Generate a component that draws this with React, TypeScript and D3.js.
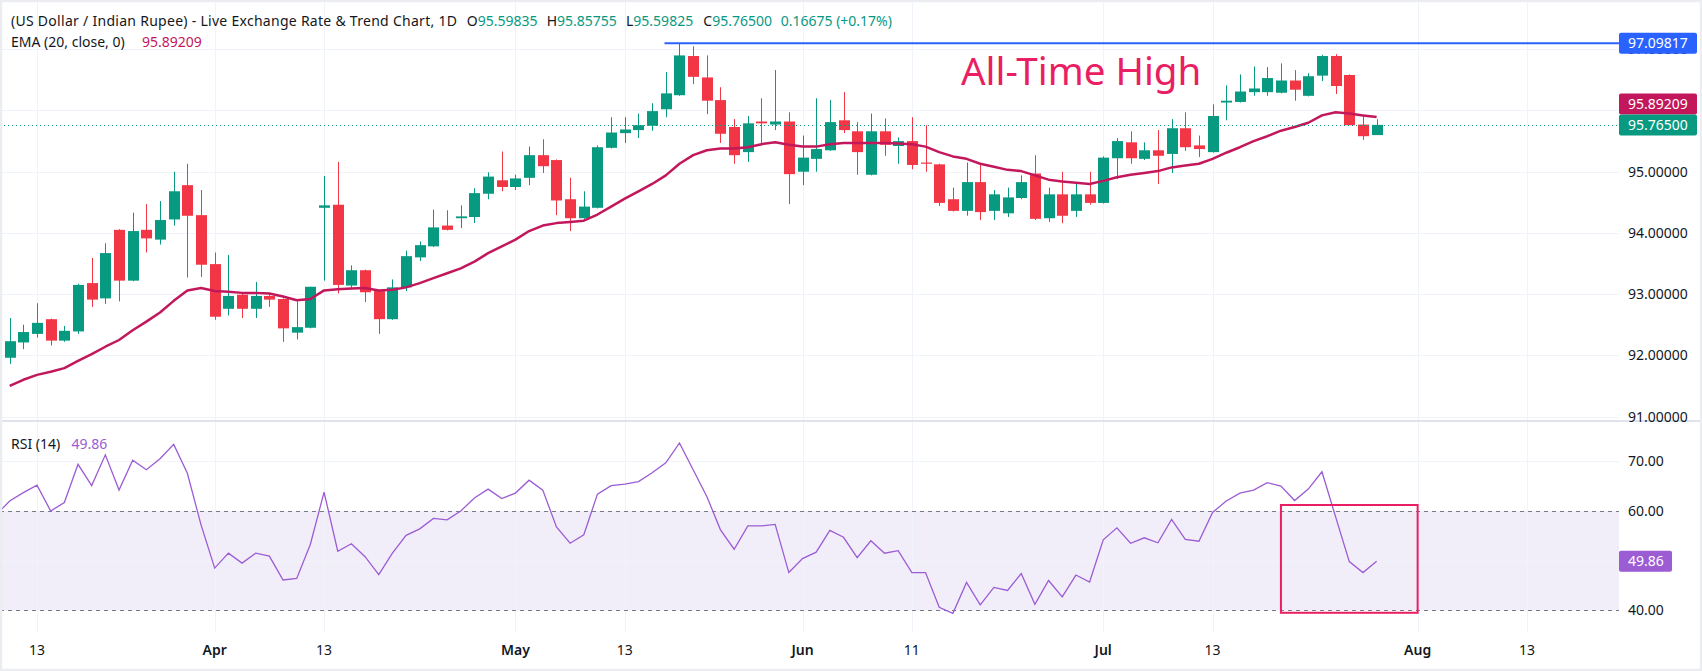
import React, { useEffect, useRef } from 'react';
import * as d3 from 'd3';

// trading days shown on the chart (USD/INR daily)
const dates = [
  '2026-03-11', '2026-03-12', '2026-03-13', '2026-03-16', '2026-03-17', '2026-03-18', '2026-03-19', '2026-03-20',
  '2026-03-23', '2026-03-24', '2026-03-25', '2026-03-26', '2026-03-27', '2026-03-30', '2026-03-31',
  '2026-04-01', '2026-04-02', '2026-04-03', '2026-04-06', '2026-04-07', '2026-04-08', '2026-04-09', '2026-04-10',
  '2026-04-13', '2026-04-14', '2026-04-15', '2026-04-16', '2026-04-17', '2026-04-20', '2026-04-21', '2026-04-22',
  '2026-04-23', '2026-04-24', '2026-04-27', '2026-04-28', '2026-04-29', '2026-04-30',
  '2026-05-01', '2026-05-04', '2026-05-05', '2026-05-06', '2026-05-07', '2026-05-08', '2026-05-11', '2026-05-12',
  '2026-05-13', '2026-05-14', '2026-05-15', '2026-05-18', '2026-05-19', '2026-05-20', '2026-05-21', '2026-05-22',
  '2026-05-25', '2026-05-26', '2026-05-27', '2026-05-28', '2026-05-29',
  '2026-06-01', '2026-06-02', '2026-06-03', '2026-06-04', '2026-06-05', '2026-06-08', '2026-06-09', '2026-06-10',
  '2026-06-11', '2026-06-12', '2026-06-15', '2026-06-16', '2026-06-17', '2026-06-18', '2026-06-19', '2026-06-22',
  '2026-06-23', '2026-06-24', '2026-06-25', '2026-06-26', '2026-06-29', '2026-06-30',
  '2026-07-01', '2026-07-02', '2026-07-03', '2026-07-06', '2026-07-07', '2026-07-08', '2026-07-09', '2026-07-10',
  '2026-07-13', '2026-07-14', '2026-07-15', '2026-07-16', '2026-07-17', '2026-07-20', '2026-07-21', '2026-07-22',
  '2026-07-23', '2026-07-24', '2026-07-27', '2026-07-28', '2026-07-29',
];

// empty slots to the right of the last bar
const futureDates = [
  '2026-07-30', '2026-07-31', '2026-08-03', '2026-08-04', '2026-08-05', '2026-08-06', '2026-08-07',
  '2026-08-10', '2026-08-11', '2026-08-12', '2026-08-13', '2026-08-14', '2026-08-17', '2026-08-18', '2026-08-19',
];

const opens = [
  91.96, 92.21, 92.35, 92.59, 92.24, 92.39, 93.18, 92.93, 94.05, 93.22, 94.05, 93.89, 94.22, 94.78, 94.29,
  93.49, 92.76, 92.99, 92.76, 92.97, 92.92, 92.37, 92.45, 94.41, 94.46, 93.14, 93.39, 93.05, 92.59, 93.11,
  93.6, 93.78, 94.12, 94.24, 94.26, 94.64, 94.86, 94.75, 94.9, 95.27, 95.19, 94.55, 94.24, 94.41, 95.39,
  95.63, 95.68, 95.75, 96.02, 96.25, 96.89, 96.54, 96.17, 95.73, 95.32, 95.82, 95.77, 95.82, 95.0, 95.21,
  95.35, 95.84, 95.66, 94.95, 95.66, 95.42, 95.5, 95.15, 95.12, 94.55, 94.36, 94.83, 94.36, 94.32, 94.57,
  94.97, 94.24, 94.63, 94.36, 94.63, 94.49, 95.22, 95.48, 95.21, 95.35, 95.29, 95.71, 95.43, 95.32, 96.13,
  96.14, 96.3, 96.3, 96.29, 96.49, 96.24, 96.57, 96.89, 96.58, 95.77, 95.59835,
];

const highs = [
  92.61, 92.5, 92.85, 92.6, 92.48, 93.17, 93.59, 93.83, 94.06, 94.33, 94.47, 94.52, 95.0, 95.13, 94.7,
  93.68, 93.64, 93.0, 93.2, 93.02, 92.93, 92.88, 93.12, 94.93, 95.16, 93.47, 93.4, 93.06, 93.24, 93.71,
  93.86, 94.38, 94.37, 94.45, 94.73, 94.99, 95.33, 94.95, 95.41, 95.53, 95.2, 94.9, 94.68, 95.43, 95.89,
  95.89, 95.95, 96.12, 96.63, 97.09817, 97.05, 96.9, 96.38, 95.86, 95.91, 96.2, 96.66, 95.97, 95.59, 96.2,
  96.17, 96.3, 95.81, 95.95, 95.87, 95.56, 95.89, 95.76, 95.13, 94.74, 95.15, 95.12, 94.7, 94.74, 94.94,
  95.27, 94.74, 95.0, 94.83, 95.0, 95.25, 95.55, 95.66, 95.48, 95.68, 95.86, 95.97, 95.59, 96.1, 96.41,
  96.59, 96.72, 96.71, 96.77, 96.66, 96.61, 96.91, 96.92, 96.59, 95.9, 95.85755,
];

const lows = [
  91.86, 92.1, 92.29, 92.16, 92.22, 92.35, 92.79, 92.84, 92.88, 93.21, 93.68, 93.81, 94.12, 93.27, 93.28,
  92.58, 92.65, 92.61, 92.61, 92.79, 92.22, 92.26, 92.44, 93.22, 93.01, 93.08, 92.87, 92.35, 92.58, 93.05,
  93.54, 93.77, 94.04, 94.08, 94.16, 94.55, 94.68, 94.7, 94.78, 94.98, 94.29, 94.03, 94.23, 94.4, 95.38,
  95.47, 95.55, 95.67, 95.89, 96.24, 96.43, 95.94, 95.47, 95.13, 95.16, 95.46, 95.68, 94.47, 94.78, 95.0,
  95.34, 95.63, 94.95, 94.94, 95.26, 95.13, 95.04, 95.0, 94.44, 94.35, 94.28, 94.21, 94.21, 94.26, 94.55,
  94.21, 94.18, 94.16, 94.26, 94.46, 94.48, 94.88, 95.13, 95.19, 94.8, 94.98, 95.34, 95.24, 95.31, 95.84,
  96.13, 96.24, 96.24, 96.28, 96.16, 96.23, 96.48, 96.27, 95.76, 95.52, 95.59825,
];

const closes = [
  92.23, 92.38, 92.53, 92.24, 92.4, 93.15, 92.91, 93.67, 93.22, 94.03, 93.91, 94.21, 94.68, 94.28, 93.48,
  92.63, 92.97, 92.76, 92.97, 92.91, 92.44, 92.46, 93.12, 94.45, 93.15, 93.39, 93.03, 92.59, 93.11, 93.62,
  93.8, 94.09, 94.05, 94.27, 94.65, 94.92, 94.75, 94.89, 95.27, 95.09, 94.53, 94.24, 94.43, 95.4, 95.64,
  95.69, 95.76, 95.99, 96.28, 96.9, 96.55, 96.16, 95.62, 95.27, 95.79, 95.79, 95.82, 94.96, 95.23, 95.37,
  95.81, 95.68, 95.32, 95.66, 95.44, 95.5, 95.11, 95.13, 94.49, 94.36, 94.83, 94.34, 94.63, 94.58, 94.83,
  94.23, 94.63, 94.28, 94.63, 94.49, 95.23, 95.5, 95.22, 95.35, 95.26, 95.71, 95.4, 95.37, 95.91, 96.16,
  96.31, 96.36, 96.53, 96.49, 96.34, 96.56, 96.89, 96.4, 95.76, 95.58, 95.765,
];

const ema20 = [
  91.5, 91.6, 91.68, 91.73, 91.79, 91.91, 92.02, 92.14, 92.25, 92.41, 92.55, 92.7, 92.89, 93.06, 93.1,
  93.05, 93.04, 93.02, 93.02, 93.01, 92.96, 92.9, 92.92, 93.06, 93.08, 93.09, 93.1, 93.06, 93.07, 93.11,
  93.18, 93.26, 93.34, 93.42, 93.53, 93.67, 93.78, 93.89, 94.03, 94.12, 94.16, 94.18, 94.2, 94.3, 94.43,
  94.56, 94.68, 94.8, 94.94, 95.13, 95.27, 95.35, 95.38, 95.38, 95.4, 95.45, 95.48, 95.44, 95.41, 95.41,
  95.45, 95.47, 95.47, 95.47, 95.47, 95.46, 95.45, 95.41, 95.32, 95.25, 95.21, 95.13, 95.08, 95.03, 95.01,
  94.94, 94.87, 94.84, 94.82, 94.8, 94.85, 94.91, 94.95, 94.98, 95.01, 95.07, 95.1, 95.13, 95.21, 95.31,
  95.4, 95.5, 95.58, 95.67, 95.73, 95.8, 95.92, 95.97, 95.95, 95.92, 95.89209,
];

// RSI starts one bar earlier (the bar cut off at the left edge)
const rsiDates = ['2026-03-10', ...dates];
const rsi14 = [
  59.2, 62.0, 63.7, 65.2, 60.0, 61.7, 69.4, 65.1, 71.3, 64.2, 70.2, 68.3, 70.5, 73.4, 67.6, 57.2, 48.5,
  51.5, 49.5, 51.5, 50.9, 46.1, 46.4, 53.3, 63.8, 51.9, 53.4, 50.8, 47.2, 51.5, 55.1, 56.4, 58.5, 58.2,
  60.0, 62.6, 64.4, 62.5, 63.6, 66.2, 64.2, 56.8, 53.5, 55.2, 63.4, 65.1, 65.4, 65.9, 67.7, 69.7, 73.7,
  68.3, 62.9, 56.2, 52.3, 57.0, 57.0, 57.3, 47.6, 50.4, 51.7, 56.1, 54.7, 50.6, 54.0, 51.5, 52.0, 47.6,
  47.6, 40.6, 39.4, 45.6, 41.1, 44.6, 44.0, 47.4, 41.2, 46.0, 42.7, 47.1, 45.7, 54.2, 56.6, 53.5, 54.6,
  53.6, 58.3, 54.3, 53.9, 59.7, 62.0, 63.6, 64.2, 65.7, 65.0, 62.1, 64.4, 67.9, 58.8, 49.8, 47.6, 49.86,
];

const priceTicks = [91, 92, 93, 94, 95, 96, 97];
const rsiTicks = [70, 60, 50, 40];
const rsiBand = [40, 60];
const axisDates = [
  '2026-03-13', '2026-04-01', '2026-04-13', '2026-05-01', '2026-05-13', '2026-06-01',
  '2026-06-11', '2026-07-01', '2026-07-13', '2026-08-03', '2026-08-13',
];
const axisLabels = ['13', 'Apr', '13', 'May', '13', 'Jun', '11', 'Jul', '13', 'Aug', '13'];

const allTimeHigh = 97.09817;
const athDate = '2026-05-19';
const boxStart = '2026-07-20';
const boxEnd = '2026-08-03';
const boxRsi = [39.5, 61.2];

const FONT = '"Noto Sans", sans-serif';
const UP = '#089981';
const DOWN = '#F23645';
const EMA_COLOR = '#C2185B';
const RSI_COLOR = '#9B5CD4';
const TEXT = '#131722';
const GRID = '#F0F3FA';

const App: React.FC = () => {
  const chartRef = useRef<SVGSVGElement | null>(null);

  useEffect(() => {
    const svg = d3.select(chartRef.current);
    svg.selectAll('*').remove();

    const width = 1702;
    const height = 671;
    const plotRight = 1619;
    const sepY = 421;
    const rsiBottom = 632;

    const slots = ['2026-03-10', ...dates, ...futureDates];
    const slot = (d: string) => slots.indexOf(d);

    const x = d3.scaleLinear()
      .domain([slot('2026-03-13'), slot('2026-08-13')])
      .range([37, 1527]);
    const step = x(1) - x(0);

    const y = d3.scaleLinear().domain([92, 97]).range([355.3, 49.3]);
    const yR = d3.scaleLinear().domain([40, 70]).range([610.3, 461.3]);

    svg.append('rect').attr('width', width).attr('height', height).attr('fill', '#fff');

    const defs = svg.append('defs');
    defs.append('clipPath').attr('id', 'pricePane')
      .append('rect').attr('x', 0).attr('y', 0).attr('width', plotRight).attr('height', sepY);
    defs.append('clipPath').attr('id', 'rsiPane')
      .append('rect').attr('x', 0).attr('y', sepY).attr('width', plotRight).attr('height', rsiBottom - sepY);

    // RSI band background
    svg.append('rect')
      .attr('x', 0).attr('width', plotRight)
      .attr('y', yR(rsiBand[1])).attr('height', yR(rsiBand[0]) - yR(rsiBand[1]))
      .attr('fill', '#F2EEF9');

    // grid
    const grid = svg.append('g');
    grid.selectAll('line.v').data(axisDates).join('line')
      .attr('x1', d => Math.round(x(slot(d))) + 0.5).attr('x2', d => Math.round(x(slot(d))) + 0.5)
      .attr('y1', 0).attr('y2', rsiBottom)
      .attr('stroke', GRID);
    grid.selectAll('line.p').data(priceTicks).join('line')
      .attr('x1', 0).attr('x2', plotRight)
      .attr('y1', d => Math.round(y(d)) + 0.5).attr('y2', d => Math.round(y(d)) + 0.5)
      .attr('stroke', GRID);
    grid.selectAll('line.r').data(rsiTicks).join('line')
      .attr('x1', 0).attr('x2', plotRight)
      .attr('y1', d => Math.round(yR(d)) + 0.5).attr('y2', d => Math.round(yR(d)) + 0.5)
      .attr('stroke', d => (rsiBand.includes(d) ? '#787B86' : GRID))
      .attr('stroke-dasharray', d => (rsiBand.includes(d) ? '4,4' : null));

    // pane separator
    svg.append('line')
      .attr('x1', 0).attr('x2', width).attr('y1', sepY).attr('y2', sepY)
      .attr('stroke', '#E0E3EB').attr('stroke-width', 2);

    // candles
    const candles = dates.map((d, i) => ({ d, o: opens[i], h: highs[i], l: lows[i], c: closes[i] }));
    const bodyW = Math.round(step * 0.8);
    const price = svg.append('g').attr('clip-path', 'url(#pricePane)');
    const cx = (d: string) => Math.round(x(slot(d)));

    price.selectAll('line.wick').data(candles).join('line')
      .attr('x1', k => cx(k.d) + 0.5).attr('x2', k => cx(k.d) + 0.5)
      .attr('y1', k => y(k.h)).attr('y2', k => y(k.l))
      .attr('stroke', k => (k.c >= k.o ? UP : DOWN));
    price.selectAll('rect.body').data(candles).join('rect')
      .attr('x', k => cx(k.d) - (bodyW - 1) / 2)
      .attr('width', bodyW)
      .attr('y', k => y(Math.max(k.o, k.c)))
      .attr('height', k => Math.max(1, Math.abs(y(k.o) - y(k.c))))
      .attr('fill', k => (k.c >= k.o ? UP : DOWN));

    // EMA 20
    const emaLine = d3.line<number>()
      .x((_, i) => x(slot(dates[i])))
      .y(v => y(v));
    price.append('path')
      .datum(ema20)
      .attr('d', emaLine)
      .attr('fill', 'none')
      .attr('stroke', EMA_COLOR)
      .attr('stroke-width', 2.5)
      .attr('stroke-linejoin', 'round');

    // last close dotted line
    const lastClose = closes[closes.length - 1];
    price.append('line')
      .attr('x1', 0).attr('x2', plotRight)
      .attr('y1', Math.round(y(lastClose)) + 0.5).attr('y2', Math.round(y(lastClose)) + 0.5)
      .attr('stroke', UP).attr('stroke-dasharray', '1,3');

    // all-time high line
    price.append('line')
      .attr('x1', x(slot(athDate)) - 15).attr('x2', plotRight)
      .attr('y1', y(allTimeHigh)).attr('y2', y(allTimeHigh))
      .attr('stroke', '#2962FF').attr('stroke-width', 2);

    price.append('text')
      .attr('x', 961).attr('y', 85)
      .attr('font-family', FONT).attr('font-size', 38.5)
      .attr('fill', '#E91E63')
      .text('All-Time High');

    // RSI
    const rsiLine = d3.line<number>()
      .x((_, i) => x(slot(rsiDates[i])))
      .y(v => yR(v));
    svg.append('g').attr('clip-path', 'url(#rsiPane)')
      .append('path')
      .datum(rsi14)
      .attr('d', rsiLine)
      .attr('fill', 'none')
      .attr('stroke', RSI_COLOR)
      .attr('stroke-width', 1.3);

    // highlight box on the RSI drop
    svg.append('rect')
      .attr('x', x(slot(boxStart))).attr('y', yR(boxRsi[1]))
      .attr('width', x(slot(boxEnd)) - x(slot(boxStart)))
      .attr('height', yR(boxRsi[0]) - yR(boxRsi[1]))
      .attr('fill', 'none').attr('stroke', '#E91E63').attr('stroke-width', 2);

    // x axis labels
    svg.append('g').selectAll('text').data(axisDates).join('text')
      .attr('x', d => x(slot(d)))
      .attr('y', 655)
      .attr('text-anchor', 'middle')
      .attr('font-family', FONT).attr('font-size', 14)
      .attr('font-weight', (_, i) => (/^[A-Z]/.test(axisLabels[i]) ? 600 : 400))
      .attr('fill', TEXT)
      .text((_, i) => axisLabels[i]);

    // value tags on the axis
    const axisX = 1628;
    const boxH = 21;
    const closeY = y(lastClose);
    const emaLast = ema20[ema20.length - 1];
    const emaY = Math.min(y(emaLast), closeY - boxH);
    const rsiLast = rsi14[rsi14.length - 1];
    const tags = [
      { v: allTimeHigh.toFixed(5), cy: y(allTimeHigh), fill: '#2962FF', w: 78 },
      { v: emaLast.toFixed(5), cy: emaY, fill: EMA_COLOR, w: 78 },
      { v: lastClose.toFixed(5), cy: closeY, fill: UP, w: 78 },
      { v: rsiLast.toFixed(2), cy: yR(rsiLast), fill: RSI_COLOR, w: 53 },
    ];
    // a tick label fully covered by the tags is not drawn
    const covered = (py: number) => {
      const inTag = (v: number) => tags.some(t => Math.abs(v - t.cy) <= boxH / 2);
      return inTag(py - 5) && inTag(py + 5);
    };

    // right axis labels
    svg.append('g').selectAll('text').data(priceTicks.filter(d => !covered(y(d)))).join('text')
      .attr('x', axisX).attr('y', d => y(d)).attr('dy', '0.36em')
      .attr('font-family', FONT).attr('font-size', 14).attr('fill', TEXT)
      .text(d => d.toFixed(5));
    svg.append('g').selectAll('text').data(rsiTicks.filter(d => !covered(yR(d)))).join('text')
      .attr('x', axisX).attr('y', d => yR(d)).attr('dy', '0.36em')
      .attr('font-family', FONT).attr('font-size', 14).attr('fill', TEXT)
      .text(d => d.toFixed(2));

    const tagG = svg.append('g').selectAll('g').data(tags).join('g');
    tagG.append('rect')
      .attr('x', plotRight).attr('y', t => t.cy - boxH / 2)
      .attr('width', t => t.w).attr('height', boxH).attr('rx', 2)
      .attr('fill', t => t.fill);
    tagG.append('text')
      .attr('x', axisX).attr('y', t => t.cy).attr('dy', '0.36em')
      .attr('font-family', FONT).attr('font-size', 14).attr('fill', '#fff')
      .text(t => t.v);

    // legend / header
    const head = svg.append('g').attr('font-family', FONT).attr('font-size', 14).attr('fill', TEXT);
    head.append('text').attr('x', 11).attr('y', 26)
      .attr('textLength', 446).attr('lengthAdjust', 'spacing')
      .text('(US Dollar / Indian Rupee) - Live Exchange Rate & Trend Chart, 1D');
    const last = candles[candles.length - 1];
    const change = last.c - last.l;
    const ohlc = [
      { k: 'O', v: last.o.toFixed(5), x: 466.7 },
      { k: 'H', v: last.h.toFixed(5), x: 546.7 },
      { k: 'L', v: last.l.toFixed(5), x: 626 },
      { k: 'C', v: last.c.toFixed(5), x: 703.3 },
    ];
    ohlc.forEach(item => {
      const t = head.append('text').attr('x', item.x).attr('y', 26);
      t.append('tspan').text(item.k);
      t.append('tspan').attr('fill', UP).text(item.v);
    });
    head.append('text').attr('x', 780.7).attr('y', 26).attr('fill', UP)
      .text(`${change.toFixed(5)} (+0.17%)`);

    const emaLegend = head.append('text').attr('x', 11).attr('y', 46.7);
    emaLegend.append('tspan').text('EMA (20, close, 0)');
    emaLegend.append('tspan').attr('x', 142).attr('fill', EMA_COLOR).text(emaLast.toFixed(5));

    const rsiLegend = head.append('text').attr('x', 11).attr('y', 449);
    rsiLegend.append('tspan').text('RSI (14)');
    rsiLegend.append('tspan').attr('x', 71.4).attr('fill', RSI_COLOR).text(rsiLast.toFixed(2));

    // outer frame
    svg.append('rect')
      .attr('x', 1).attr('y', 1).attr('width', width - 2).attr('height', height - 2)
      .attr('fill', 'none').attr('stroke', '#ECEDF1').attr('stroke-width', 2.5);
  }, []);

  return (
    <svg
      ref={chartRef}
      width={1702}
      height={671}
      style={{ position: 'absolute', left: 0, top: 0, display: 'block' }}
    />
  );
};

export default App;
